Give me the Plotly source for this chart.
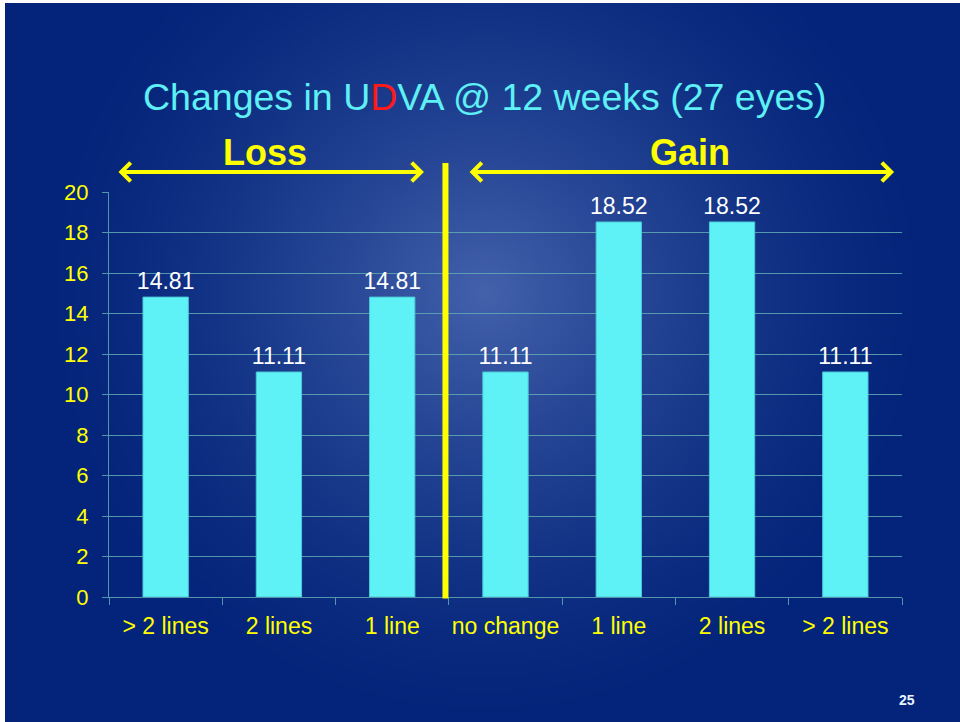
import base64
import struct
import zlib

import numpy as np
import plotly.graph_objects as go

# data
categories = ["> 2 lines", "2 lines", "1 line", "no change", "1 line", "2 lines", "> 2 lines"]
percent = [14.81, 11.11, 14.81, 11.11, 18.52, 18.52, 11.11]
y_ticks = list(range(0, 21, 2))

W, H = 960, 722
L, R, T, B = 109, 58, 192, 125
PW, PH = W - L - R, H - T - B


def glow_png(w=240, h=180):
    # radial glow of the slide background, built as a tiny png
    yy, xx = np.mgrid[0:h, 0:w]
    cx, cy = 0.50 * w, 0.40 * h
    d = np.sqrt(((xx - cx) / (0.48 * w)) ** 2 + ((yy - cy) / (0.62 * h)) ** 2)
    t = np.clip(1 - d, 0, 1) ** 1.5
    edge = np.array([3, 36, 122])
    mid = np.array([68, 98, 172])
    img = edge[None, None, :] + (mid - edge)[None, None, :] * t[..., None]
    img = img.astype(np.uint8)
    raw = b"".join(b"\x00" + img[r].tobytes() for r in range(h))

    def chunk(tag, data):
        c = tag + data
        return struct.pack(">I", len(data)) + c + struct.pack(">I", zlib.crc32(c) & 0xFFFFFFFF)

    png = b"\x89PNG\r\n\x1a\n"
    png += chunk(b"IHDR", struct.pack(">IIBBBBB", w, h, 8, 2, 0, 0, 0))
    png += chunk(b"IDAT", zlib.compress(raw, 9))
    png += chunk(b"IEND", b"")
    return "data:image/png;base64," + base64.b64encode(png).decode()


def px(xp, yp):
    # figure pixel -> paper coords
    return (xp - L) / PW, (H - B - yp) / PH


x = list(range(len(categories)))

fig = go.Figure()
fig.add_trace(go.Bar(
    x=x, y=percent,
    marker=dict(color="#5EF2F7", line=dict(color="#4BC9D6", width=1)),
    width=0.4,
    text=["%.2f" % v for v in percent],
    textposition="outside",
    constraintext="none",
    cliponaxis=False,
    textfont=dict(color="white", size=23, family="Liberation Sans, Arial"),
))

grid_col = "rgba(95,170,180,0.85)"

fig.update_layout(
    width=W, height=H,
    margin=dict(l=L, r=R, t=T, b=B),
    paper_bgcolor="white",
    plot_bgcolor="rgba(0,0,0,0)",
    showlegend=False,
    font=dict(family="Liberation Sans, Arial"),
    xaxis=dict(
        range=[-0.5, 6.5],
        tickvals=x, ticktext=categories,
        ticks="", showgrid=False,
        showline=True, linecolor=grid_col, linewidth=1,
        tickfont=dict(color="#FFFF00", size=23),
        ticklabelstandoff=8,
        minor=dict(tickvals=[i - 0.5 for i in range(len(categories) + 1)],
                   ticks="outside", ticklen=7, tickcolor=grid_col),
        zeroline=False,
    ),
    yaxis=dict(
        range=[0, 20], tickvals=y_ticks,
        showgrid=True, gridcolor=grid_col, gridwidth=1,
        showline=True, linecolor=grid_col, linewidth=1,
        ticks="outside", ticklen=6, tickcolor=grid_col,
        tickfont=dict(color="#FFFF00", size=22),
        ticklabelstandoff=9,
        zeroline=False,
    ),
    images=[dict(
        source=glow_png(), xref="paper", yref="paper",
        x=(5 - L) / PW, y=(H - B - 3) / PH,
        sizex=(W - 5) / PW, sizey=(H - 3) / PH,
        sizing="stretch", layer="below", xanchor="left", yanchor="top",
    )],
)

# divider between loss and gain
fig.add_shape(type="line", xref="x", yref="paper", x0=2.47, x1=2.47,
              y0=-0.004, y1=px(0, 163)[1],
              line=dict(color="#FFFF00", width=6))

# double-headed arrows
arrow_y = px(0, 172)[1]
for head, length in [(2.28, -307), (6.43, -426)]:
    fig.add_annotation(
        x=head, y=arrow_y, xref="x", yref="paper",
        ax=length, ay=0, axref="pixel", ayref="pixel",
        showarrow=True, arrowside="end+start",
        arrowhead=4, startarrowhead=4, arrowsize=0.9, startarrowsize=0.9,
        arrowwidth=4, arrowcolor="#FFFF00", text="",
    )

for txt, xp in [("<b>Loss</b>", 265), ("<b>Gain</b>", 690)]:
    ax_, ay_ = px(xp, 152)
    fig.add_annotation(x=ax_, y=ay_, xref="paper", yref="paper",
                       xanchor="center", yanchor="middle",
                       text=txt, showarrow=False,
                       font=dict(color="#FFFF00", size=36))

tx, ty = px(485, 97)
fig.add_annotation(x=tx, y=ty, xref="paper", yref="paper",
                   xanchor="center", yanchor="middle",
                   text="Changes in U<span style='color:#FF1A1A'>D</span>VA @ 12 weeks (27 eyes)",
                   showarrow=False, font=dict(color="#5EF0F5", size=37.5))

nx, ny = px(907, 700)
fig.add_annotation(x=nx, y=ny, xref="paper", yref="paper",
                   xanchor="center", yanchor="middle",
                   text="<b>25</b>", showarrow=False,
                   font=dict(color="#E8F4FF", size=14))

fig.write_html("out.html", config={"displayModeBar": False},
               post_script="document.body.style.margin='0';")
